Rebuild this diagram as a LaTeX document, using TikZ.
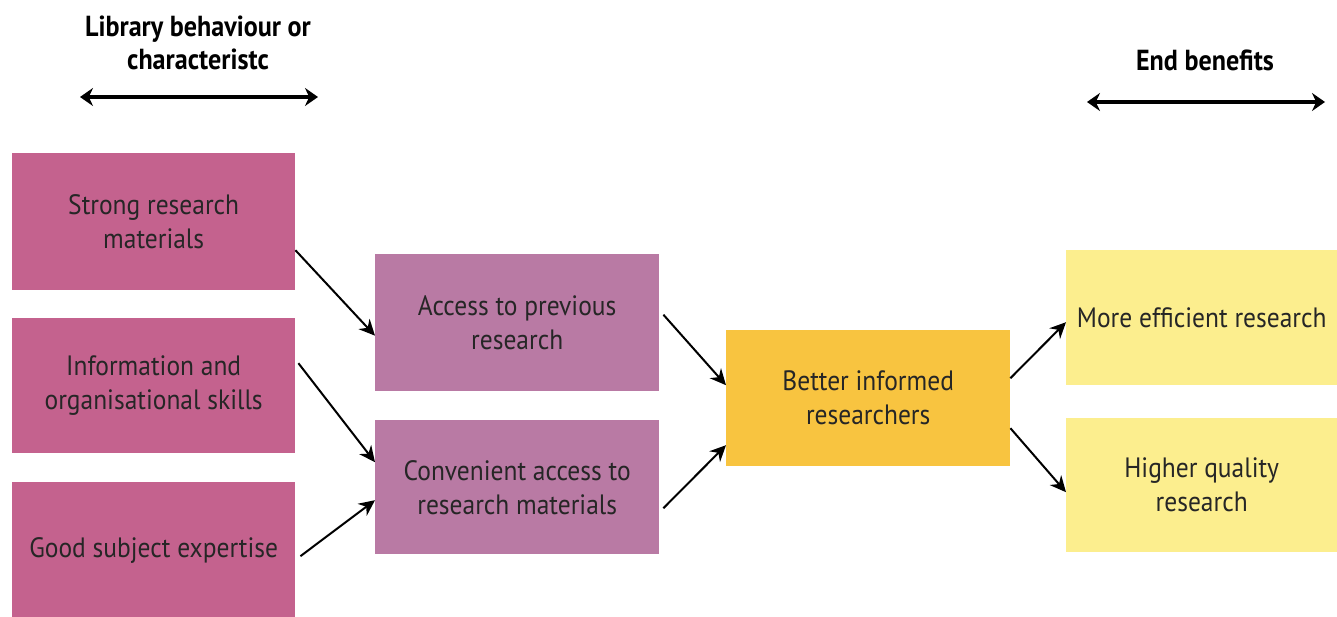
\documentclass[tikz,border=0pt]{standalone}
\usepackage{fontspec}
\setmainfont[FakeStretch=0.91]{PT Sans}
\newfontfamily\headfont[FakeStretch=0.9]{PT Sans}
\usetikzlibrary{arrows.meta}
\definecolor{libpink}{HTML}{C4628E}
\definecolor{midmauve}{HTML}{B97AA4}
\definecolor{centre}{HTML}{F8C440}
\definecolor{endyel}{HTML}{FCEE8E}
\definecolor{txt}{HTML}{262626}
\tikzset{
  box/.style={minimum width=284pt, minimum height=137pt, inner sep=0pt, align=center,
    text=txt, font=\fontsize{28}{34}\selectfont, anchor=north west},
  lib/.style={box, fill=libpink},
  mid/.style={box, fill=midmauve},
  cen/.style={box, fill=centre},
  fin/.style={box, fill=endyel, minimum width=271pt},
  arr/.style={line width=2pt, -{Stealth[length=16pt,width=15pt]}},
  head/.style={font=\headfont\bfseries\fontsize{29}{33}\selectfont, align=center, text=black},
  harr/.style={line width=3.5pt, {Stealth[length=13pt,width=18pt]}-{Stealth[length=13pt,width=18pt]}}
}
\begin{document}
\begin{tikzpicture}[x=1pt,y=-1pt]
\useasboundingbox (0,0) rectangle (1337,617);
\node[head] (h1) at (198,43) {Library behaviour or\\characteristc};
\coordinate (h1l) at (80,97);
\coordinate (h1r) at (318,97);
\draw[harr] (h1l) -- (h1r);
\node[head] (h2) at (1205,60) {End benefits};
\coordinate (h2l) at (1087,102);
\coordinate (h2r) at (1325,102);
\draw[harr] (h2l) -- (h2r);

\node[lib, minimum width=283pt] (b1) at (12,153) {Strong research\\materials};
\node[lib, minimum width=283pt, minimum height=135pt] (b2) at (12,318) {Information and\\organisational skills};
\node[lib, minimum width=283pt, minimum height=136pt] (b3) at (12,482) {Good subject expertise};

\node[mid] (m1) at (375,254) {Access to previous\\research};
\node[mid, minimum height=134pt] (m2) at (375,420) {Convenient access to\\research materials};

\node[cen, minimum height=136pt] (c) at (726,330) {Better informed\\researchers};

\node[fin, minimum height=135pt] (r1) at (1066,250) {More efficient research};
\node[fin, minimum height=134pt] (r2) at (1066,418) {Higher quality\\research};

\draw[arr] ([yshift=-28.5pt]b1.east) -- ([yshift=-13pt]m1.west);
\draw[arr] ([shift={(3pt,22.5pt)}]b2.east) -- ([yshift=25pt]m2.west);
\draw[arr] ([shift={(5pt,-6pt)}]b3.east) -- ([yshift=-13pt]m2.west);
\draw[arr] ([shift={(4pt,8pt)}]m1.east) -- ([yshift=13pt]c.west);
\draw[arr] ([shift={(4pt,-21pt)}]m2.east) -- ([yshift=-47pt]c.west);
\draw[arr] ([yshift=20pt]c.east) -- ([yshift=-4.5pt]r1.west);
\draw[arr] ([yshift=-30pt]c.east) -- ([yshift=-7pt]r2.west);
\end{tikzpicture}
\end{document}
